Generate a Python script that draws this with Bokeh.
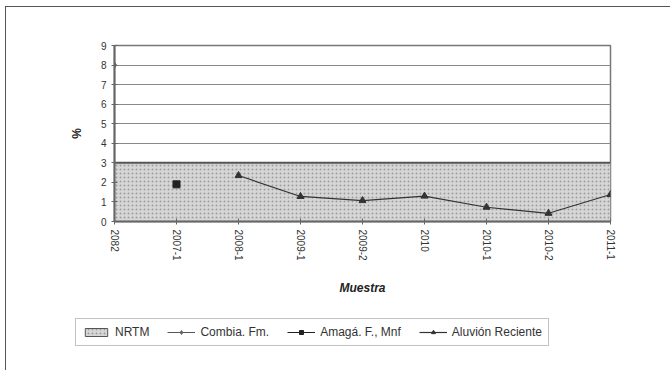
from bokeh.plotting import figure
from bokeh.models import FixedTicker, Legend, LegendItem
from bokeh.embed import file_html
from bokeh.resources import INLINE
import math

muestras = ["2082", "2007-1", "2008-1", "2009-1", "2009-2", "2010", "2010-1", "2010-2", "2011-1"]
nrtm_limit = 3
combia_x = [0]
combia_y = [8.0]
amaga_x = [1]
amaga_y = [1.9]
aluvion_x = [2, 3, 4, 5, 6, 7, 8]
aluvion_y = [2.35, 1.28, 1.07, 1.3, 0.73, 0.42, 1.38]

xs = list(range(len(muestras)))

p = figure(width=665, height=298, output_backend="svg", toolbar_location=None,
           x_range=(0, len(muestras) - 1), y_range=(0, 9),
           min_border_left=108, min_border_right=61, min_border_top=38, min_border_bottom=84)
p.styles = {"margin-left": "5px", "margin-top": "6px",
            "border-top": "1px solid #555555", "border-left": "1px solid #555555"}
p.background_fill_color = "white"
p.border_fill_color = "white"
p.outline_line_color = "#777777"
p.outline_line_width = 1.5

band_style = dict(fill_color="#d6d6d6", hatch_pattern="dot", hatch_color="#8f8f8f",
                  hatch_scale=4, hatch_alpha=0.8)
p.varea(x=[0, len(muestras) - 1], y1=[0, 0], y2=[nrtm_limit, nrtm_limit], **band_style)
p.line(x=[0, len(muestras) - 1], y=[nrtm_limit, nrtm_limit], line_color="#555555", line_width=2)

comb_line = dict(line_color="#555555", line_width=1)
comb_mk = dict(marker="diamond", size=6, fill_color="#666666", line_color="#666666")
ama_line = dict(line_color="#222222", line_width=1)
ama_mk = dict(marker="square", size=7, fill_color="#222222", line_color="#222222")
alu_line = dict(line_color="#333333", line_width=1.2)
alu_mk = dict(marker="triangle", size=7, fill_color="#333333", line_color="#333333")

p.line(combia_x, combia_y, **comb_line)
p.scatter(combia_x, combia_y, **comb_mk)
p.line(amaga_x, amaga_y, **ama_line)
p.scatter(amaga_x, amaga_y, **ama_mk)
p.line(aluvion_x, aluvion_y, **alu_line)
p.scatter(aluvion_x, aluvion_y, **alu_mk)

p.xaxis.ticker = FixedTicker(ticks=xs)
p.xaxis.major_label_overrides = {i: m for i, m in enumerate(muestras)}
p.xaxis.major_label_orientation = -math.pi / 2
p.xaxis.axis_label = "Muestra"
p.xaxis.axis_label_text_font_style = "bold italic"
p.yaxis.axis_label = "%"
p.yaxis.axis_label_text_font_style = "bold"
p.yaxis.ticker = FixedTicker(ticks=list(range(10)))
for ax in (p.xaxis[0], p.yaxis[0]):
    ax.axis_label_text_font = "Liberation Sans"
    ax.axis_label_text_font_size = "12px"
    ax.axis_label_text_color = "#222222"
    ax.major_label_text_font = "Liberation Sans"
    ax.major_label_text_font_size = "10px"
    ax.major_label_text_color = "#333333"
    ax.axis_line_color = "#666666"
    ax.axis_line_width = 2
    ax.major_tick_line_color = "#666666"
    ax.major_tick_in = 3
    ax.major_tick_out = 3
    ax.minor_tick_line_color = None
p.xaxis.axis_label_standoff = 17
p.yaxis.axis_label_standoff = 14

p.xgrid.grid_line_color = None
p.ygrid.ticker = FixedTicker(ticks=list(range(10)))
p.ygrid.grid_line_color = "#888888"
p.ygrid.grid_line_width = 1.2

# legend strip below the chart (separate root, so its frame spans the full width)
q = figure(width=665, height=66, output_backend="svg", toolbar_location=None,
           x_range=(0, 1), y_range=(0, 1), x_axis_type=None, y_axis_type=None,
           min_border=0, min_border_left=0, min_border_right=0,
           min_border_top=0, min_border_bottom=0)
q.styles = {"margin-left": "5px", "border-left": "1px solid #555555"}
q.outline_line_color = None
q.xgrid.grid_line_color = None
q.ygrid.grid_line_color = None
hx = [-10, -9]
hy = [-10, -10]
lb = q.quad(left=[-10], right=[-9], bottom=[-10], top=[-9], line_color="#555555", line_width=1,
            **band_style)
lc1 = q.line(hx, hy, **comb_line)
lc2 = q.scatter(hx, hy, **comb_mk)
la1 = q.line(hx, hy, **ama_line)
la2 = q.scatter(hx, hy, **ama_mk)
lu1 = q.line(hx, hy, **alu_line)
lu2 = q.scatter(hx, hy, **alu_mk)

legend = Legend(items=[
    LegendItem(label="NRTM", renderers=[lb]),
    LegendItem(label="Combia. Fm.", renderers=[lc1, lc2]),
    LegendItem(label="Amagá. F., Mnf", renderers=[la1, la2]),
    LegendItem(label="Aluvión Reciente", renderers=[lu1, lu2]),
], orientation="horizontal", location=(69, 24),
    label_text_font="Liberation Sans", label_text_font_size="12px",
    label_text_color="#333333",
    border_line_color="#888888", border_line_width=1.2,
    glyph_width=28, glyph_height=10, spacing=18, padding=6, margin=0,
    label_standoff=5, background_fill_alpha=1)
q.add_layout(legend, "center")

open("out.html", "w").write(file_html([p, q], INLINE))
